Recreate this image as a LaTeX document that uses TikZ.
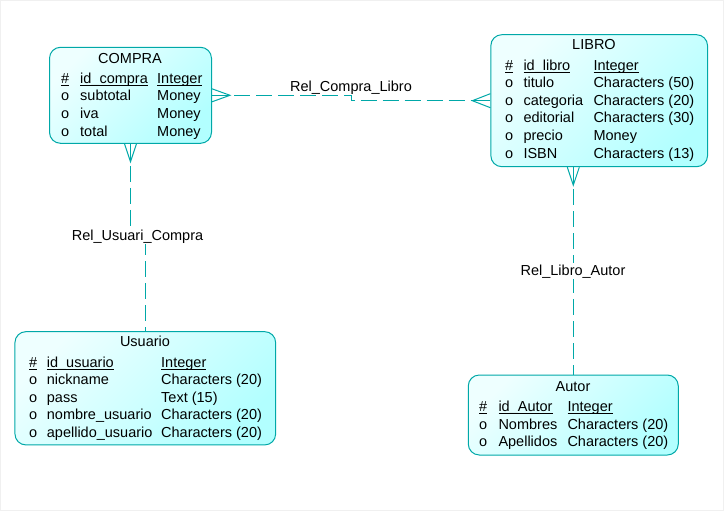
\documentclass[tikz,border=0pt]{standalone}
\usepackage{fontspec}
\setmainfont{Liberation Sans}
\usetikzlibrary{calc}
\definecolor{borde}{RGB}{0,168,168}
\definecolor{claro}{RGB}{238,255,255}
\definecolor{cian}{RGB}{178,255,255}
\newcommand\ulin[1]{\setbox0\hbox{#1}\rlap{\rule[-2.2pt]{\wd0}{0.9pt}}\box0}
\tikzset{
  entidad/.style={draw=borde, line width=1pt, rounded corners=11pt, top color=claro, bottom color=cian, shading angle=45, inner sep=0pt},
  txt/.style={anchor=base west, inner sep=0pt, font=\fontsize{14.5}{17}\selectfont},
  titulo/.style={txt, anchor=base},
  rel/.style={draw=borde, line width=1pt, dash pattern=on 16pt off 6pt},
  pata/.style={draw=borde, line width=1pt},
  etiq/.style={anchor=base, font=\fontsize{14.5}{17}\selectfont, inner sep=1pt}
}

\begin{document}
\begin{tikzpicture}[x=1pt,y=-1pt]
		%%%%% START %%%%%
		\useasboundingbox (0,0) rectangle (724,511);
		\draw[black!6] (0.5,0.5) rectangle (723.5,510.5);
		
		% entidades
		\node[entidad, minimum width=162, minimum height=96] (compra) at (130.5,95.3) {};
		\node[entidad, minimum width=216.7, minimum height=132] (libro) at (599.2,100.7) {};
		\node[entidad, minimum width=260.7, minimum height=113.3] (usuario) at (145.3,388.3) {};
		\node[entidad, minimum width=210, minimum height=80] (autor) at (573.3,415) {};
		
		% COMPRA
		\node[titulo] (compra-t) at (130,63.5) {COMPRA};
		\node[txt] (compra-k1) at (61,83.5) {\ulin{\#}};
		\node[txt] (compra-k2) at (80,83.5) {\ulin{id\_compra}};
		\node[txt] (compra-k3) at (157,83.5) {\ulin{Integer}};
		\foreach \a/\b [count=\i] in {subtotal/Money, iva/Money, total/Money} {
			\node[txt] (compra-o\i) at (61,83.5+17.5*\i) {o};
			\node[txt] (compra-a\i) at (80,83.5+17.5*\i) {\a};
			\node[txt] (compra-b\i) at (157,83.5+17.5*\i) {\b};
		}
		
		% LIBRO
		\node[titulo] (libro-t) at (594,50) {LIBRO};
		\node[txt] (libro-k1) at (505,70.5) {\ulin{\#}};
		\node[txt] (libro-k2) at (523.3,70.5) {\ulin{id\_libro}};
		\node[txt] (libro-k3) at (593.3,70.5) {\ulin{Integer}};
		\foreach \a/\b [count=\i] in {titulo/Characters (50), categoria/Characters (20), editorial/Characters (30), precio/Money, ISBN/Characters (13)} {
			\node[txt] (libro-o\i) at (505,70.5+17.5*\i) {o};
			\node[txt] (libro-a\i) at (523.3,70.5+17.5*\i) {\a};
			\node[txt] (libro-b\i) at (593.3,70.5+17.5*\i) {\b};
		}
		
		% Usuario
		\node[titulo] (usuario-t) at (145,346.7) {Usuario};
		\node[txt] (usuario-k1) at (29,367.3) {\ulin{\#}};
		\node[txt] (usuario-k2) at (46.7,367.3) {\ulin{id\_usuario}};
		\node[txt] (usuario-k3) at (161,367.3) {\ulin{Integer}};
		\foreach \a/\b [count=\i] in {nickname/Characters (20), pass/Text (15), nombre\_usuario/Characters (20), apellido\_usuario/Characters (20)} {
			\node[txt] (usuario-o\i) at (29,367.3+17.5*\i) {o};
			\node[txt] (usuario-a\i) at (46.7,367.3+17.5*\i) {\a};
			\node[txt] (usuario-b\i) at (161,367.3+17.5*\i) {\b};
		}
		
		% Autor
		\node[titulo] (autor-t) at (573,391.7) {Autor};
		\node[txt] (autor-k1) at (479,411.7) {\ulin{\#}};
		\node[txt] (autor-k2) at (498.3,411.7) {\ulin{id\_Autor}};
		\node[txt] (autor-k3) at (567.3,411.7) {\ulin{Integer}};
		\foreach \a/\b [count=\i] in {Nombres/Characters (20), Apellidos/Characters (20)} {
			\node[txt] (autor-o\i) at (479,411.7+17.5*\i) {o};
			\node[txt] (autor-a\i) at (498.3,411.7+17.5*\i) {\a};
			\node[txt] (autor-b\i) at (567.3,411.7+17.5*\i) {\b};
		}
		
		% relaciones
		\node[etiq] (rcl) at (351,91.7) {Rel\_Compra\_Libro};
		\draw[rel] (compra.east) -- (compra.east -| rcl) -- (libro.west -| rcl) -- (libro.west);
		\draw[pata] ($(compra.east)+(0,-6.5)$) -- ($(compra.east)+(18,0)$) -- ($(compra.east)+(0,6.5)$);
		\draw[pata] (compra.east) -- ($(compra.east)+(18,0)$);
		\draw[pata] ($(libro.west)+(0,-7)$) -- ($(libro.west)+(-18,0)$) -- ($(libro.west)+(0,7)$);
		\draw[pata] (libro.west) -- ($(libro.west)+(-18,0)$);
		
		\coordinate (ruc-p) at (137.5,235);
		\draw[rel] (compra.south) -- (compra.south |- ruc-p) -- (usuario.north |- ruc-p) -- (usuario.north);
		\draw[pata] ($(compra.south)+(-6,0)$) -- ($(compra.south)+(0,18)$) -- ($(compra.south)+(6,0)$);
		\draw[pata] (compra.south) -- ($(compra.south)+(0,18)$);
		\node[etiq, fill=white] (ruc) at (137.5,240) {Rel\_Usuari\_Compra};
		
		\coordinate (lp) at (autor.north |- libro.south);
		\draw[rel] (lp) -- (autor.north);
		\draw[pata] ($(lp)+(-6,0)$) -- ($(lp)+(0,18)$) -- ($(lp)+(6,0)$);
		\draw[pata] (lp) -- ($(lp)+(0,18)$);
		\node[etiq, fill=white] (rla) at (573,275) {Rel\_Libro\_Autor};
		
		%%%%% END %%%%%
\end{tikzpicture}
\end{document}
